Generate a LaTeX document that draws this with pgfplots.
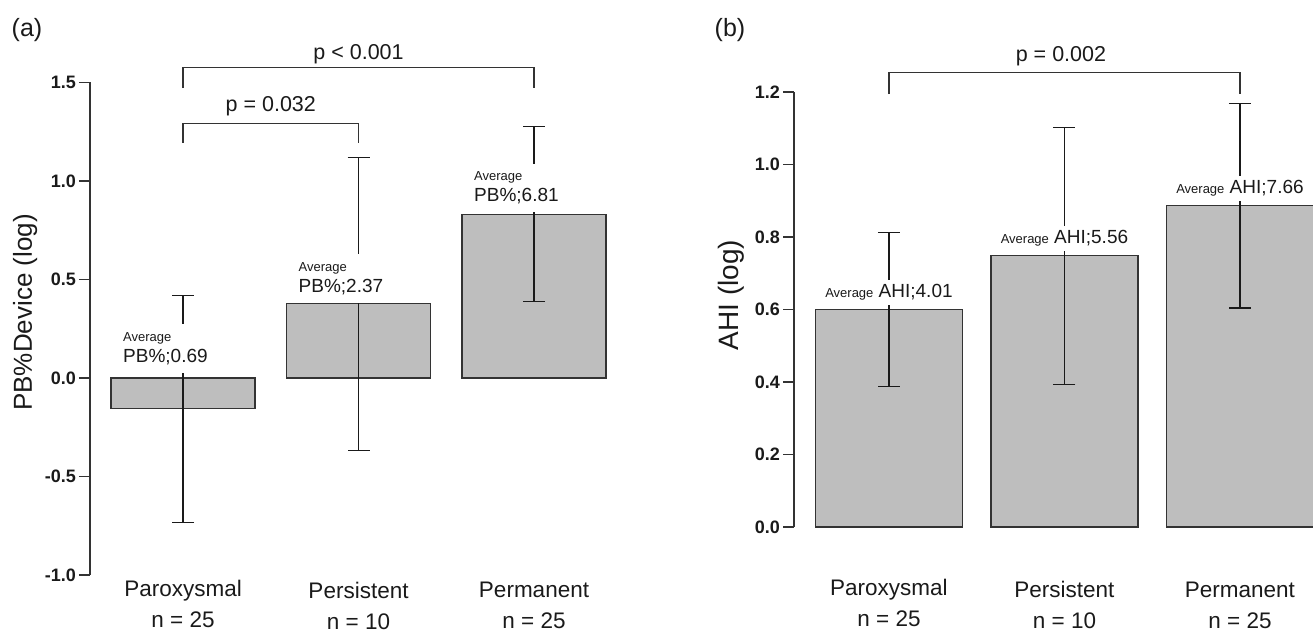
\documentclass[border=0pt]{standalone}
\usepackage{fontspec}
\setmainfont{Liberation Sans}
\usepackage{pgfplots}
\pgfplotsset{compat=1.18}
\definecolor{barfill}{HTML}{BEBEBE}
\definecolor{edge}{HTML}{333333}
\definecolor{ink}{HTML}{1A1A1A}
\newcommand{\fs}[1]{\fontsize{#1}{#1}\selectfont}

\begin{document}
\begin{tikzpicture}[x=1pt,y=1pt]
\pgfplotsset{
  rstyle/.style={
    anchor=south west, scale only axis, axis x line=none, axis y line*=left,
    enlargelimits=false, clip=false,
    tick align=outside, major tick length=11pt,
    tick style={edge, line width=1.1pt},
    y axis line style={edge, line width=1.1pt},
    yticklabel style={font=\bfseries\fs{18}, text=ink, inner sep=3pt},
    ylabel style={anchor=center, text=ink},
  },
  bars/.style={ybar, bar width=#1, bar shift=0pt, fill=barfill, draw=edge, line width=1.1pt,
    error bars/y dir=both, error bars/y explicit,
    error bars/error bar style={ink, line width=1.1pt},
    error bars/error mark options={ink, line width=1.1pt, mark size=11pt, rotate=90}},
}
\tikzset{
  lab/.style={fill=white, inner xsep=3pt, inner ysep=8pt, text=ink},
  xl/.style={anchor=north, align=center, font=\fontsize{22.5}{31}\selectfont, text=ink, inner sep=0pt},
  pv/.style={anchor=base, font=\fs{21.5}, text=ink},
  br/.style={edge, line width=1.1pt},
}

% (a) PB%Device
\begin{axis}[rstyle, at={(90pt,57pt)}, x=175.5pt, y=197pt,
  xmin=-0.53, xmax=2.5, ymin=-1, ymax=1.5,
  ytick={-1,-0.5,0,0.5,1,1.5}, yticklabels={-1.0,-0.5,0.0,0.5,1.0,1.5},
  ylabel={PB\%Device (log)}, ylabel style={font=\fs{26}, at={(axis description cs:-0.122,0.533)}}]
\addplot[bars=144pt] coordinates {(0,-0.157) +- (0,0.576) (1,0.376) +- (0,0.745) (2,0.832) +- (0,0.445)};
\node[lab, anchor=south west, align=left, font=\fontsize{19}{19}\selectfont] at (axis cs:-0.359,0.025) {{\fs{13}Average}\\[2pt]PB\%;0.69};
\node[lab, anchor=south west, align=left, font=\fontsize{19}{19}\selectfont] at (axis cs:0.641,0.381) {{\fs{13}Average}\\[2pt]PB\%;2.37};
\node[lab, anchor=south west, align=left, font=\fontsize{19}{19}\selectfont] at (axis cs:1.641,0.842) {{\fs{13}Average}\\[2pt]PB\%;6.81};
\draw[br] (axis cs:0,1.193) -- (axis cs:0,1.294) -- (axis cs:1,1.294) -- (axis cs:1,1.193);
\draw[br] (axis cs:0,1.472) -- (axis cs:0,1.574) -- (axis cs:2,1.574) -- (axis cs:2,1.472);
\node[pv] at (axis cs:0.5,1.355) {p = 0.032};
\node[pv] at (axis cs:1,1.619) {p < 0.001};
\node[xl] at (axis cs:0,-1.025) {Paroxysmal\\n = 25};
\node[xl] at (axis cs:1,-1.035) {Persistent\\n = 10};
\node[xl] at (axis cs:2,-1.035) {Permanent\\n = 25};
\end{axis}

% (b) AHI
\begin{axis}[rstyle, at={(794pt,105pt)}, x=175.5pt, y=362.5pt,
  xmin=-0.541, xmax=2.415, ymin=0, ymax=1.2,
  ytick={0,0.2,0.4,0.6,0.8,1.0,1.2}, yticklabels={0.0,0.2,0.4,0.6,0.8,1.0,1.2},
  ylabel={AHI (log)}, ylabel style={font=\fs{28}, at={(axis description cs:-0.121,0.533)}}]
\addplot[bars=147pt] coordinates {(0,0.600) +- (0,0.212) (1,0.748) +- (0,0.354) (2,0.886) +- (0,0.282)};
\node[lab, anchor=base, font=\fs{19}, inner ysep=2pt, text height=16pt, text depth=5pt] at (axis cs:0,0.633) {{\fs{13}Average} AHI;4.01};
\node[lab, anchor=base, font=\fs{19}, inner ysep=2pt, text height=16pt, text depth=5pt] at (axis cs:1,0.781) {{\fs{13}Average} AHI;5.56};
\node[lab, anchor=base, font=\fs{19}, inner ysep=2pt, text height=16pt, text depth=5pt] at (axis cs:2,0.919) {{\fs{13}Average} AHI;7.66};
\draw[br] (axis cs:0,1.194) -- (axis cs:0,1.255) -- (axis cs:2,1.255) -- (axis cs:2,1.194);
\node[pv] at (axis cs:0.98,1.283) {p = 0.002};
\node[xl] at (axis cs:0,-0.1434) {Paroxysmal\\n = 25};
\node[xl] at (axis cs:1,-0.15) {Persistent\\n = 10};
\node[xl] at (axis cs:2,-0.15) {Permanent\\n = 25};
\end{axis}

\node[font=\fs{25}, text=ink] at (27,602) {(a)};
\node[font=\fs{25}, text=ink] at (730,602) {(b)};

\pgfresetboundingbox
\useasboundingbox (0,0) rectangle (1313,632);
\end{tikzpicture}
\end{document}
